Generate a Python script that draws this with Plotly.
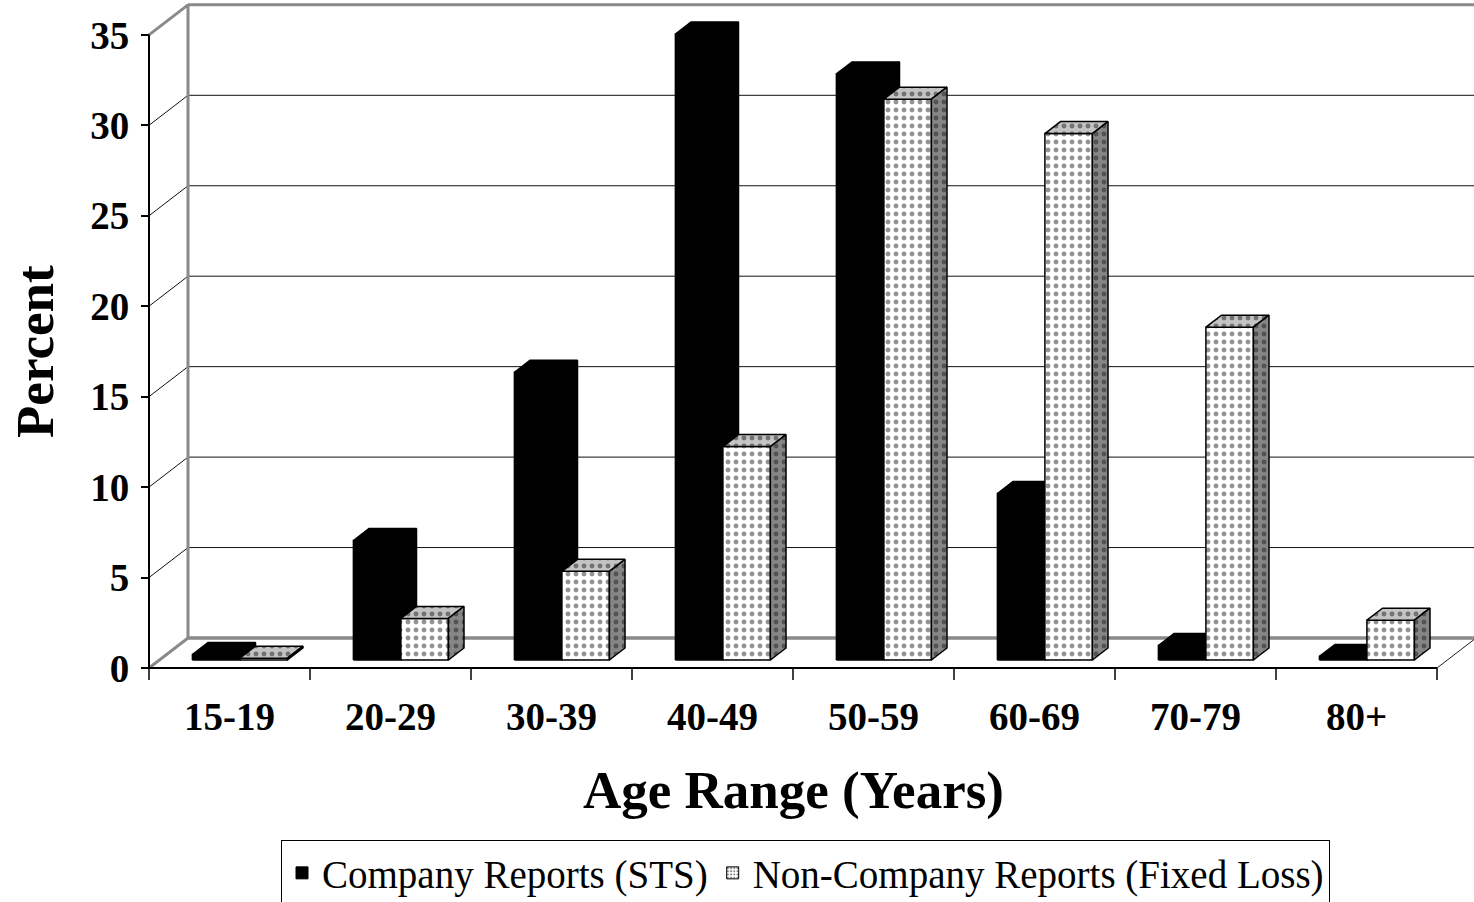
import plotly.graph_objects as go

# ---------------- data ----------------
categories = ["15-19", "20-29", "30-39", "40-49", "50-59", "60-69", "70-79", "80+"]
company = [0.3, 6.6, 15.9, 34.6, 32.4, 9.2, 0.8, 0.2]
noncompany = [0.1, 2.3, 4.9, 11.8, 31.0, 29.1, 18.4, 2.2]
y_ticks = [0, 5, 10, 15, 20, 25, 30, 35]
series_names = ["Company Reports (STS)", "Non-Company Reports (Fixed Loss)"]

# ---------------- geometry (pseudo 3-D projection) ----------------
W, H = 1474, 902
PX_X = 161.0   # pixels per category
PX_Y = 18.09   # pixels per percent
ML, MR, MT, MB = 140, 0, 2, 212
X_ORIGIN_PX = 149      # pixel of category boundary 0
Y_ZERO_PX = 668        # pixel of value 0 on the front axis

def ux(px):
    return px / PX_X

def uy(px):
    return px / PX_Y

NCAT = len(categories)
YMAX = y_ticks[-1]
WALL_DX, WALL_DY = ux(39), uy(30)
BAR_DX0, BAR_DY0 = ux(10.4), uy(8)
DEPTH_DX, DEPTH_DY = ux(15.6), uy(12)
BAR_W = ux(47.5)

x_range = [-(X_ORIGIN_PX - ML) / PX_X, (W - MR - X_ORIGIN_PX) / PX_X]
y_range = [-(H - MB - Y_ZERO_PX) / PX_Y, (Y_ZERO_PX - MT) / PX_Y]

fig = go.Figure()


def line_trace(xs, ys, color, width):
    return go.Scatter(x=xs, y=ys, mode="lines", line=dict(color=color, width=width),
                      hoverinfo="skip", showlegend=False)


# wall grid lines (side wall diagonals + back wall horizontals)
gx, gy = [], []
for v in y_ticks[1:-1]:
    gx += [0, WALL_DX, NCAT + WALL_DX, None]
    gy += [v, v + WALL_DY, v + WALL_DY, None]
fig.add_trace(line_trace(gx, gy, "#101010", 1))

# gray frame of back wall / floor
fx = [0, WALL_DX, WALL_DX, NCAT + WALL_DX, None,
      0, WALL_DX, NCAT + WALL_DX, None]
fy = [YMAX, YMAX + WALL_DY, WALL_DY, WALL_DY, None,
      0, WALL_DY, WALL_DY, None]
fx += [WALL_DX, NCAT + WALL_DX]
fy += [YMAX + WALL_DY, YMAX + WALL_DY]
fig.add_trace(line_trace(fx, fy, "#8a8a8a", 3))

# right floor diagonal
fig.add_trace(line_trace([NCAT, NCAT + WALL_DX], [0, WALL_DY], "#202020", 1))

# front axis + front floor edge
fig.add_trace(line_trace([0, 0, NCAT], [YMAX, 0, 0], "black", 2))

# category boundary ticks
tx, ty = [], []
for i in range(NCAT + 1):
    tx += [i, i, None]
    ty += [0, -uy(12), None]
fig.add_trace(line_trace(tx, ty, "black", 1.5))


# ---------------- bars ----------------
def poly(xs, ys, fillcolor, pattern=None):
    kw = dict(x=xs + [xs[0]], y=ys + [ys[0]], mode="lines", fill="toself",
              fillcolor=fillcolor, line=dict(color="black", width=1.5),
              hoverinfo="skip", showlegend=False)
    if pattern is not None:
        kw["fillpattern"] = pattern
    return go.Scatter(**kw)


dots_front = dict(shape=".", fgcolor="#2a2a2a", bgcolor="white", size=8, solidity=0.3)
dots_top = dict(shape=".", fgcolor="#202020", bgcolor="#c4c4c4", size=8, solidity=0.3)
dots_side = dict(shape=".", fgcolor="#202020", bgcolor="#868686", size=8, solidity=0.3)

for i in range(NCAT):
    center = i + 0.5 + BAR_DX0
    b0 = BAR_DY0
    # company bar (left)
    xl, xr = center - BAR_W, center
    t = b0 + company[i]
    tn = b0 + noncompany[i]
    fig.add_trace(poly([xl, xr, xr, xl], [b0, b0, t, t], "black"))
    fig.add_trace(poly([xl, xr, xr + DEPTH_DX, xl + DEPTH_DX],
                       [t, t, t + DEPTH_DY, t + DEPTH_DY], "black"))
    fig.add_trace(poly([xr, xr + DEPTH_DX, xr + DEPTH_DX, xr],
                       [b0, b0 + DEPTH_DY, t + DEPTH_DY, t], "black"))
    # non-company bar (right)
    xl2, xr2 = center, center + BAR_W
    fig.add_trace(poly([xl2, xr2, xr2, xl2], [b0, b0, tn, tn], "white", dots_front))
    fig.add_trace(poly([xl2, xr2, xr2 + DEPTH_DX, xl2 + DEPTH_DX],
                       [tn, tn, tn + DEPTH_DY, tn + DEPTH_DY], "#c4c4c4", dots_top))
    fig.add_trace(poly([xr2, xr2 + DEPTH_DX, xr2 + DEPTH_DX, xr2],
                       [b0, b0 + DEPTH_DY, tn + DEPTH_DY, tn], "#868686", dots_side))

# legend entries
fig.add_trace(go.Bar(x=[None], y=[None], name=series_names[0],
                     marker=dict(color="black", line=dict(color="black", width=1))))
fig.add_trace(go.Bar(x=[None], y=[None], name=series_names[1],
                     marker=dict(color="white", line=dict(color="black", width=1),
                                 pattern=dict(shape=".", fgcolor="black", bgcolor="white",
                                              size=4, solidity=0.3))))

SERIF = "Liberation Serif"
tick_font = dict(family=SERIF, size=39, color="black", weight="bold")

fig.update_layout(
    width=W, height=H,
    margin=dict(l=ML, r=MR, t=MT, b=MB, autoexpand=False),
    paper_bgcolor="white", plot_bgcolor="white",
    hovermode=False,
    xaxis=dict(range=x_range, showgrid=False, zeroline=False, showline=False,
               tickmode="array", tickvals=[i + 0.5 for i in range(NCAT)],
               ticktext=categories, ticks="", tickfont=tick_font,
               ticklabelstandoff=0),
    yaxis=dict(range=y_range, showgrid=False, zeroline=False, showline=False,
               anchor="free", position=(X_ORIGIN_PX - ML) / (W - ML - MR),
               tickmode="array", tickvals=y_ticks, ticks="outside", ticklen=8,
               tickwidth=1.5, tickcolor="black", tickfont=tick_font,
               ticklabelstandoff=4),
    showlegend=True,
    legend=dict(orientation="h", xref="container", yref="container",
                x=805.5 / W, xanchor="center",
                y=1 - 840 / H, yanchor="top",
                bordercolor="black", borderwidth=1, bgcolor="white",
                font=dict(family=SERIF, size=39, color="black")),
    annotations=[
        dict(text="<b>Percent</b>", textangle=-90, xref="paper", yref="paper",
             x=(35 - ML) / (W - ML - MR), y=(H - MB - 352) / (H - MT - MB),
             xanchor="center", yanchor="middle", showarrow=False,
             font=dict(family=SERIF, size=53, color="black")),
        dict(text="<b>Age Range (Years)</b>", xref="paper", yref="paper",
             x=(793 - ML) / (W - ML - MR), y=(H - MB - 790) / (H - MT - MB),
             xanchor="center", yanchor="middle", showarrow=False,
             font=dict(family=SERIF, size=53, color="black")),
    ],
)

fig.write_html("out.html",
               config={"displayModeBar": False},
               post_script="document.body.style.margin='0px';"
                           "document.body.style.overflow='hidden';")
